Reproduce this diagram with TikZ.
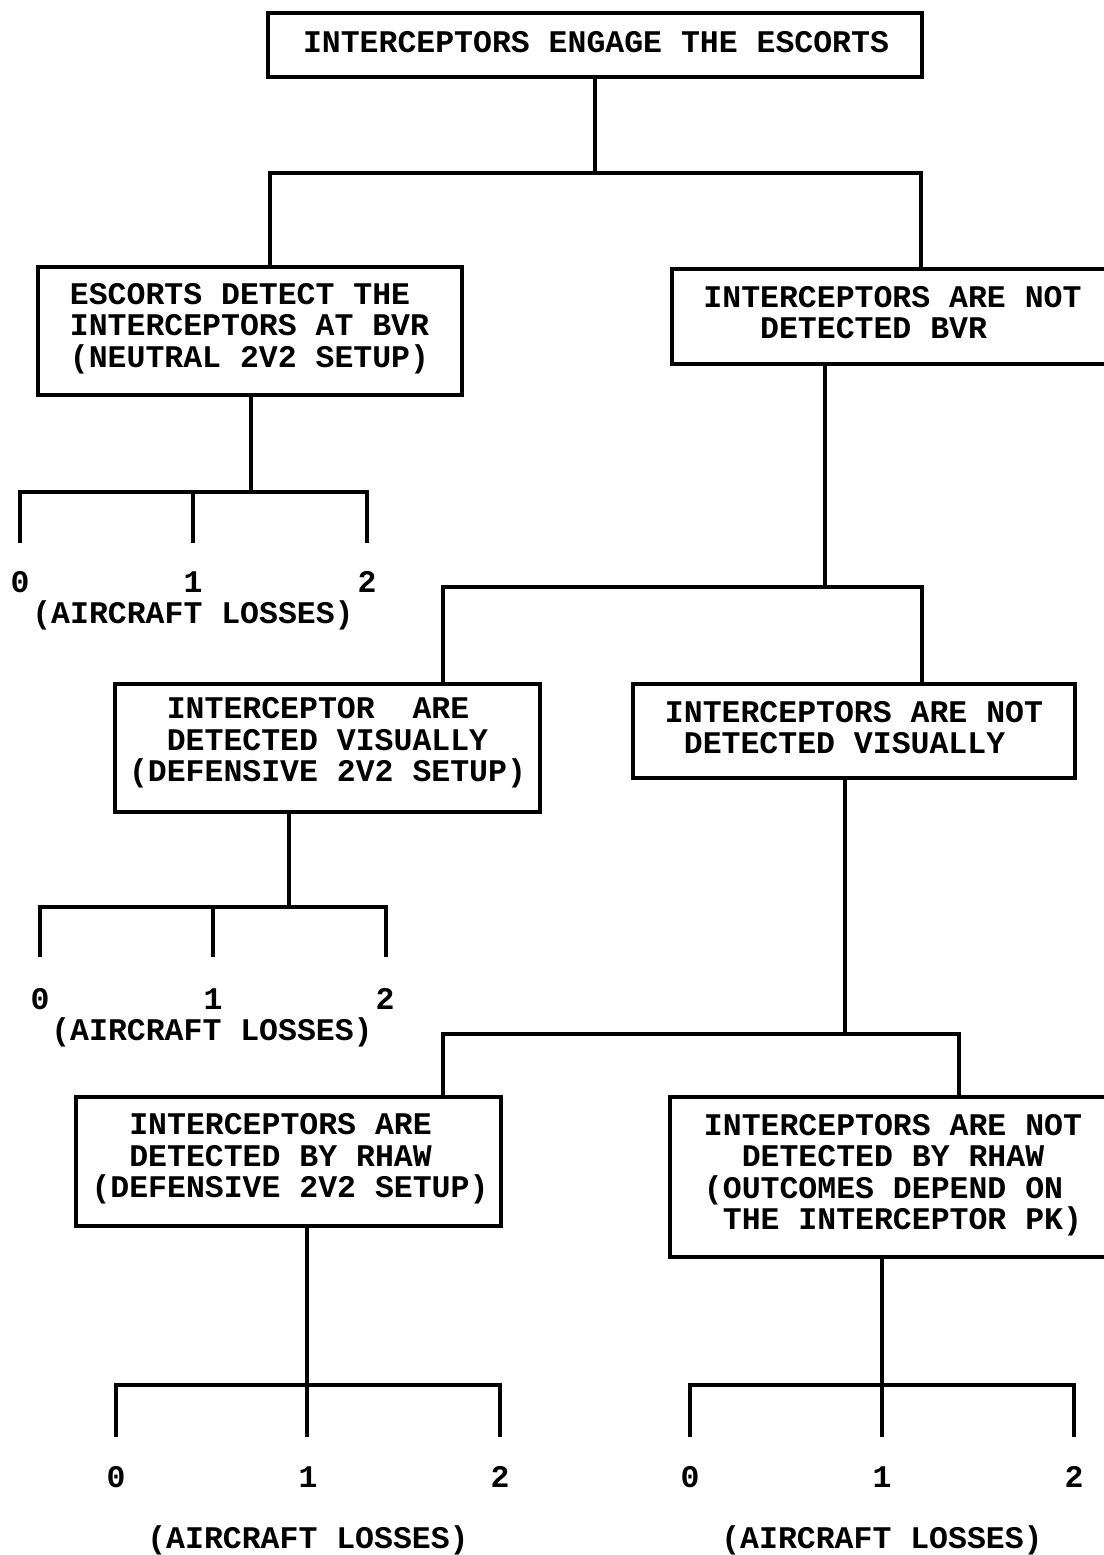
\documentclass[tikz,border=0pt]{standalone}
\usepackage{fontspec}
\newfontfamily\monofnt{Liberation Mono}[WordSpace={1,0,0}]
\newcommand\gapc{\hphantom{0}}
\begin{document}
\frenchspacing
\begin{tikzpicture}[x=0.5pt,y=-0.5pt,
  every node/.style={font=\monofnt\bfseries\fontsize{15.75}{15.75}\selectfont, inner sep=0pt},
  box/.style={draw, line width=1.75pt, rectangle},
  txt/.style={align=left, anchor=center},
  conn/.style={line width=1.75pt, line cap=rect, line join=miter},
  lbl/.style={anchor=center}]
\useasboundingbox (0,0) rectangle (1104,1555);

% boxes
\node[box, minimum width=327pt, minimum height=32pt] (top) at (595,45) {};
\node[box, minimum width=212pt, minimum height=64pt] (esc) at (250,331) {};
\node[box, minimum width=220.5pt, minimum height=47.5pt] (nbvr) at (892.5,316.5) {};
\node[box, minimum width=212.5pt, minimum height=64pt] (vis) at (327.5,748) {};
\node[box, minimum width=221pt, minimum height=47pt] (nvis) at (854,731) {};
\node[box, minimum width=212.5pt, minimum height=64.5pt] (rhaw) at (288.5,1161.5) {};
\node[box, minimum width=223pt, minimum height=80pt] (nrhaw) at (893,1177) {};

% box texts
\node[txt] (ttop) at (596,42) {INTERCEPTORS ENGAGE THE ESCORTS};
\node[txt] (tesc) at (249.5,328.5)
  {ESCORTS DETECT THE\\INTERCEPTORS AT BVR\\(NEUTRAL 2V2 SETUP)};
\node[txt] (tnbvr) at (892.5,312.5)
  {INTERCEPTORS ARE NOT\\\gapc\gapc\gapc DETECTED BVR};
\node[txt] (tvis) at (327.5,743)
  {\gapc\gapc INTERCEPTOR\gapc\gapc ARE\\\gapc\gapc DETECTED VISUALLY\\(DEFENSIVE 2V2 SETUP)};
\node[txt] (tnvis) at (854,727.5)
  {INTERCEPTORS ARE NOT\\\gapc DETECTED VISUALLY};
\node[txt] (trhaw) at (290,1159)
  {\gapc\gapc INTERCEPTORS ARE\\\gapc\gapc DETECTED BY RHAW\\(DEFENSIVE 2V2 SETUP)};
\node[txt] (tnrhaw) at (893,1175)
  {INTERCEPTORS ARE NOT\\\gapc\gapc DETECTED BY RHAW\\(OUTCOMES DEPEND ON\\\gapc THE INTERCEPTOR PK)};

% junction coordinates
\coordinate (j1l) at (270,173);
\coordinate (j1r) at (921,173);
\coordinate (f2) at (251,492);
\coordinate (l2a) at (20,541);
\coordinate (l2b) at (193,541);
\coordinate (l2c) at (367,541);
\coordinate (j3) at (825,587);
\coordinate (j3l) at (443,587);
\coordinate (j3r) at (922,587);
\coordinate (f4) at (289,907);
\coordinate (l4a) at (40,955);
\coordinate (l4b) at (213,955);
\coordinate (l4c) at (386,955);
\coordinate (j5) at (845,1034);
\coordinate (j5l) at (443,1034);
\coordinate (j5r) at (959,1034);
\coordinate (f6) at (307,1385);
\coordinate (l6a) at (116,1435);
\coordinate (l6c) at (500,1435);
\coordinate (f7) at (882,1385);
\coordinate (l7a) at (690,1435);
\coordinate (l7c) at (1074,1435);

% connectors: level 1
\draw[conn] (top.south) -- (top.south |- j1l);
\draw[conn] (j1l |- esc.north) -- (j1l) -- (j1r) -- (j1r |- nbvr.north);

% escorts outcomes
\draw[conn] (f2 |- esc.south) -- (f2);
\draw[conn] (l2a) -- (l2a |- f2) -- (l2c |- f2) -- (l2c);
\draw[conn] (l2b |- f2) -- (l2b);

% not detected BVR branch
\draw[conn] (j3 |- nbvr.south) -- (j3);
\draw[conn] (j3l |- vis.north) -- (j3l) -- (j3r) -- (j3r |- nvis.north);

% visual outcomes
\draw[conn] (f4 |- vis.south) -- (f4);
\draw[conn] (l4a) -- (l4a |- f4) -- (l4c |- f4) -- (l4c);
\draw[conn] (l4b |- f4) -- (l4b);

% not detected visually branch
\draw[conn] (j5 |- nvis.south) -- (j5);
\draw[conn] (j5l |- rhaw.north) -- (j5l) -- (j5r) -- (j5r |- nrhaw.north);

% rhaw outcomes
\draw[conn] (f6 |- rhaw.south) -- (l6a -| f6);
\draw[conn] (l6a) -- (l6a |- f6) -- (l6c |- f6) -- (l6c);

% not rhaw outcomes
\draw[conn] (f7 |- nrhaw.south) -- (l7a -| f7);
\draw[conn] (l7a) -- (l7a |- f7) -- (l7c |- f7) -- (l7c);

% labels
\node[lbl] (o2a) at (20,582) {0};
\node[lbl] (o2b) at (193,582) {1};
\node[lbl] (o2c) at (367,582) {2};
\node[lbl] (loss2) at (193,615) {(AIRCRAFT LOSSES)};

\node[lbl] (o4a) at (40,999) {0};
\node[lbl] (o4b) at (213,999) {1};
\node[lbl] (o4c) at (385,999) {2};
\node[lbl] (loss4) at (212,1032) {(AIRCRAFT LOSSES)};

\node[lbl] (o6a) at (116,1477) {0};
\node[lbl] (o6b) at (308,1477) {1};
\node[lbl] (o6c) at (500,1477) {2};
\node[lbl] (loss6) at (308,1540) {(AIRCRAFT LOSSES)};

\node[lbl] (o7a) at (690,1477) {0};
\node[lbl] (o7b) at (882,1477) {1};
\node[lbl] (o7c) at (1074,1477) {2};
\node[lbl] (loss7) at (882,1540) {(AIRCRAFT LOSSES)};
\end{tikzpicture}
\end{document}
